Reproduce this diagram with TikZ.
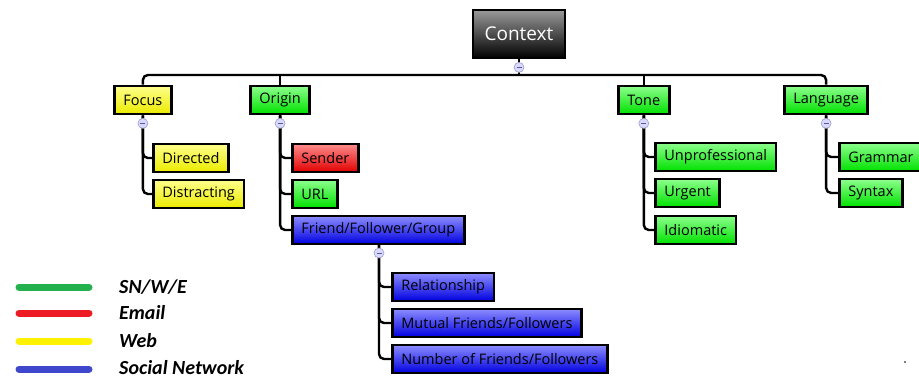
\documentclass[tikz,border=0pt]{standalone}
\usepackage{fontspec}
\setmainfont{Open Sans}
\newfontfamily\legendfont{Carlito}
\usetikzlibrary{positioning}
\definecolor{legGreen}{HTML}{22B14C}
\definecolor{legRed}{HTML}{ED1C24}
\definecolor{legYellow}{HTML}{FFF200}
\definecolor{legBlue}{HTML}{3F48CC}
\begin{document}
\begin{tikzpicture}[x=1pt, y=-1pt,
  box/.style={draw=black, line width=2.8pt, anchor=west, minimum height=28pt, inner xsep=9pt, inner ysep=0pt, font=\fontsize{14.5}{16}\selectfont},
  topbox/.style={box, minimum height=30pt},
  ybox/.style={box, top color=yellow!45, bottom color=yellow!92!black},
  gbox/.style={box, top color=green!45, bottom color=green!88!black},
  rbox/.style={box, top color=red!45, bottom color=red!88!black},
  bbox/.style={box, top color=blue!45, bottom color=blue!88!black},
  conn/.style={line width=2.4pt, rounded corners=5pt},
  fold/.style={circle, draw=blue!25!gray!60, fill=blue!15, line width=0.6pt, minimum size=10pt, inner sep=0pt},
  leg/.style={line width=7pt, line cap=round},
  legtext/.style={anchor=west, inner sep=1pt, font=\legendfont\bfseries\itshape\fontsize{20}{22}\selectfont}]
\useasboundingbox (0,0) rectangle (919,380);
\node[draw=black, line width=2.8pt, top color=gray!80, bottom color=black, text=white, minimum width=92pt, minimum height=48pt, font=\fontsize{19}{21}\selectfont] (context) at (519,34) {Context};
\node[topbox, ybox] (focus) at (113,100) {Focus};
\node[topbox, gbox] (origin) at (249,100) {Origin};
\node[topbox, gbox] (tone) at (617,100) {Tone};
\node[topbox, gbox] (language) at (783,100) {Language};
\node[ybox] (directed) at (152,158) {Directed};
\node[ybox] (distracting) at (152,194) {Distracting};
\node[rbox] (sender) at (291,158) {Sender};
\node[gbox] (url) at (291,194) {URL};
\node[bbox] (ffg) at (291,230) {Friend/Follower/Group};
\node[bbox] (relationship) at (391,287) {Relationship};
\node[bbox] (mutual) at (391,323) {Mutual Friends/Followers};
\node[bbox] (number) at (391,359) {Number of Friends/Followers};
\node[gbox] (unprof) at (654,157) {Unprofessional};
\node[gbox] (urgent) at (654,193) {Urgent};
\node[gbox] (idiomatic) at (654,230) {Idiomatic};
\node[gbox] (grammar) at (838,157) {Grammar};
\node[gbox] (syntax) at (838,193) {Syntax};
\coordinate (bar) at (519,75);
\draw[conn] (focus.north) |- (bar) -| (language.north);
\draw[conn] (context.south) -- (bar);
\draw[conn] (origin.north) -- (origin.north |- bar);
\draw[conn] (tone.north) -- (tone.north |- bar);
\draw[conn] (focus.south) |- (directed.west);
\draw[conn] (focus.south) |- (distracting.west);
\draw[conn] (origin.south) |- (sender.west);
\draw[conn] (origin.south) |- (url.west);
\draw[conn] (origin.south) |- (ffg.west);
\coordinate (ffgdrop) at (379,245);
\draw[conn] (ffgdrop) |- (relationship.west);
\draw[conn] (ffgdrop) |- (mutual.west);
\draw[conn] (ffgdrop) |- (number.west);
\draw[conn] (tone.south) |- (unprof.west);
\draw[conn] (tone.south) |- (urgent.west);
\draw[conn] (tone.south) |- (idiomatic.west);
\draw[conn] (language.south) |- (grammar.west);
\draw[conn] (language.south) |- (syntax.west);
\foreach \n/\at in {context/context.south, focus/focus.south, origin/origin.south, tone/tone.south, language/language.south, ffg/ffgdrop} {
  \node[fold] (f-\n) at ([yshift=-8pt]\at) {};
  \draw[blue!30!gray, line width=0.8pt] ([xshift=-2.5pt]f-\n.center) -- ([xshift=2.5pt]f-\n.center);
}
\draw[leg, legGreen] (19,287) -- (89,287);
\draw[leg, legRed] (19,313) -- (89,313);
\draw[leg, legYellow] (19,341) -- (89,341);
\draw[leg, legBlue] (19,369) -- (89,369);
\node[legtext] (lsn) at (118,287) {SN/W/E};
\node[legtext] (lemail) at (118,313) {Email};
\node[legtext] (lweb) at (118,341) {Web};
\node[legtext] (lsocial) at (118,368) {Social Network};
\fill[gray] (904,361) rectangle (906,363);
\end{tikzpicture}
\end{document}
